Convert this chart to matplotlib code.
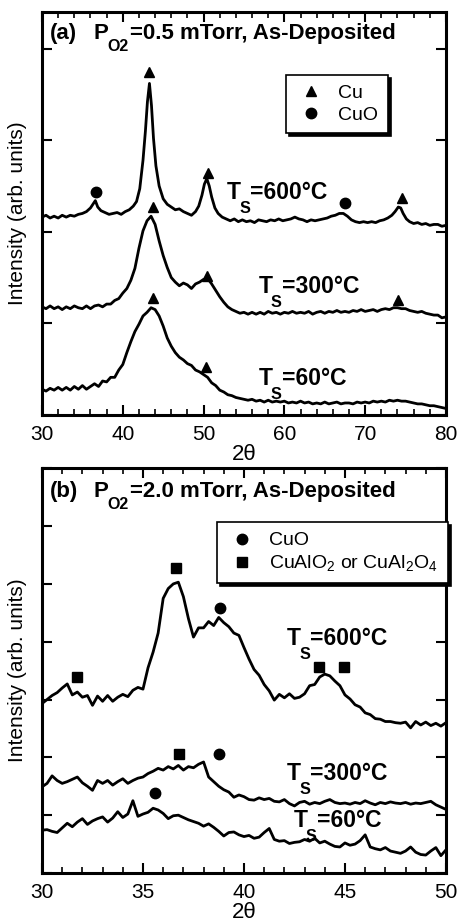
import matplotlib
matplotlib.use('Agg')
import matplotlib.pyplot as plt
from matplotlib.lines import Line2D
from matplotlib.ticker import MultipleLocator

plt.rcParams['font.family'] = ['Liberation Sans', 'DejaVu Sans']
plt.rcParams['mathtext.fontset'] = 'custom'
plt.rcParams['mathtext.rm'] = 'Liberation Sans'
plt.rcParams['mathtext.bf'] = 'Liberation Sans:bold'
plt.rcParams['mathtext.it'] = 'Liberation Sans:italic'

# ---- panel (a): P_O2 = 0.5 mTorr, 2theta 30-80 ----
xa_600 = [30, 30.5, 31, 31.5, 32, 32.5, 33, 33.5, 34, 34.5, 35, 35.5, 36, 36.3, 36.6, 36.9,
          37.3, 37.8, 38.3, 38.8, 39.3, 39.8, 40.3, 40.8, 41.3, 41.7, 42.1, 42.5, 42.8, 43.05,
          43.3, 43.55, 43.8, 44.1, 44.5, 45, 45.5, 46, 46.5, 47, 47.5, 48, 48.5, 49, 49.4, 49.8,
          50.1, 50.4, 50.7, 51, 51.4, 51.8, 52.3, 52.8, 53.3, 53.8, 54.3, 54.8, 55.3, 55.8, 56.3,
          56.8, 57.3, 57.8, 58.3, 58.8, 59.3, 59.8, 60.3, 60.8, 61.3, 61.8, 62.3, 62.8, 63.3, 63.8,
          64.3, 64.8, 65.3, 65.8, 66.3, 66.8, 67.3, 67.8, 68.3, 68.8, 69.3, 69.8, 70.3, 70.8, 71.3,
          71.8, 72.3, 72.8, 73.3, 73.7, 74.1, 74.4, 74.7, 75.1, 75.5, 76, 76.5, 77, 77.5, 78, 78.5,
          79, 79.5, 80]
ya_600 = [2.16, 2.18, 2.15, 2.17, 2.15, 2.18, 2.16, 2.18, 2.17, 2.19, 2.20, 2.22, 2.26, 2.30, 2.34, 2.27,
          2.23, 2.21, 2.19, 2.20, 2.21, 2.19, 2.22, 2.24, 2.28, 2.33, 2.47, 2.78, 3.10, 3.42,
          3.62, 3.38, 3.02, 2.72, 2.50, 2.36, 2.30, 2.27, 2.24, 2.25, 2.22, 2.20, 2.18, 2.22, 2.28, 2.40,
          2.52, 2.58, 2.50, 2.38, 2.26, 2.20, 2.16, 2.14, 2.12, 2.14, 2.11, 2.13, 2.11, 2.12, 2.10,
          2.13, 2.12, 2.11, 2.13, 2.12, 2.14, 2.12, 2.13, 2.14, 2.16, 2.14, 2.13, 2.11, 2.13, 2.12,
          2.13, 2.14, 2.15, 2.17, 2.18, 2.20, 2.20, 2.17, 2.13, 2.11, 2.10, 2.11, 2.10, 2.11, 2.10,
          2.12, 2.13, 2.15, 2.18, 2.22, 2.27, 2.26, 2.20, 2.14, 2.11, 2.09, 2.10, 2.08, 2.09, 2.07, 2.08,
          2.08, 2.06, 2.07]

xa = [30, 30.5, 31, 31.5, 32, 32.5, 33, 33.5, 34, 34.5, 35, 35.5, 36, 36.5, 37, 37.5, 38, 38.5,
      39, 39.5, 40, 40.5, 41, 41.5, 42, 42.5, 43, 43.5, 44, 44.5, 45, 45.5, 46, 46.5, 47, 47.5,
      48, 48.5, 49, 49.5, 50, 50.5, 51, 51.5, 52, 52.5, 53, 53.5, 54, 54.5, 55, 55.5, 56, 56.5,
      57, 57.5, 58, 58.5, 59, 59.5, 60, 60.5, 61, 61.5, 62, 62.5, 63, 63.5, 64, 64.5, 65, 65.5,
      66, 66.5, 67, 67.5, 68, 68.5, 69, 69.5, 70, 70.5, 71, 71.5, 72, 72.5, 73, 73.5, 74, 74.5,
      75, 75.5, 76, 76.5, 77, 77.5, 78, 78.5, 79, 79.5, 80]
ya_300 = [1.18, 1.16, 1.19, 1.16, 1.18, 1.15, 1.18, 1.16, 1.19, 1.17, 1.16, 1.19, 1.16, 1.19, 1.20, 1.18, 1.21, 1.21,
          1.25, 1.27, 1.33, 1.38, 1.47, 1.60, 1.82, 2.01, 2.12, 2.17, 2.08, 1.90, 1.74, 1.61, 1.50, 1.45, 1.41, 1.44,
          1.42, 1.38, 1.43, 1.45, 1.48, 1.49, 1.43, 1.36, 1.29, 1.23, 1.18, 1.15, 1.13, 1.11, 1.12, 1.10, 1.12, 1.10,
          1.12, 1.10, 1.13, 1.11, 1.12, 1.10, 1.12, 1.11, 1.13, 1.11, 1.12, 1.11, 1.13, 1.10, 1.12, 1.13, 1.11, 1.13,
          1.12, 1.14, 1.12, 1.13, 1.12, 1.14, 1.13, 1.15, 1.13, 1.14, 1.15, 1.13, 1.15, 1.16, 1.15, 1.17, 1.17, 1.16,
          1.16, 1.14, 1.13, 1.12, 1.13, 1.11, 1.10, 1.09, 1.09, 1.06, 1.07]
ya_60 = [0.28, 0.26, 0.29, 0.27, 0.30, 0.27, 0.30, 0.27, 0.31, 0.28, 0.32, 0.28, 0.31, 0.34, 0.31, 0.37, 0.36, 0.41,
         0.41, 0.49, 0.55, 0.68, 0.80, 0.91, 0.99, 1.08, 1.12, 1.17, 1.15, 1.08, 0.97, 0.84, 0.75, 0.68, 0.63, 0.60,
         0.56, 0.54, 0.49, 0.47, 0.44, 0.41, 0.35, 0.32, 0.27, 0.25, 0.22, 0.21, 0.19, 0.18, 0.17, 0.16, 0.17, 0.15,
         0.16, 0.14, 0.16, 0.14, 0.15, 0.14, 0.15, 0.13, 0.14, 0.13, 0.15, 0.13, 0.14, 0.12, 0.13, 0.12, 0.14, 0.12,
         0.13, 0.14, 0.12, 0.13, 0.13, 0.12, 0.14, 0.13, 0.14, 0.13, 0.15, 0.14, 0.15, 0.14, 0.16, 0.15, 0.16, 0.15,
         0.15, 0.14, 0.13, 0.12, 0.12, 0.11, 0.10, 0.10, 0.09, 0.08, 0.07]

cu_x = [43.3, 50.6, 74.5, 43.7, 50.4, 74.1, 43.8, 50.3]
cu_y = [3.75, 2.64, 2.37, 2.27, 1.52, 1.26, 1.28, 0.52]
cuo_a_x = [36.7, 67.5]
cuo_a_y = [2.43, 2.31]

# ---- panel (b): P_O2 = 2.0 mTorr, 2theta 30-50 ----
xb = [30.0, 30.25, 30.5, 30.75, 31.0, 31.25, 31.5, 31.75, 32.0, 32.25, 32.5, 32.75, 33.0, 33.25,
      33.5, 33.75, 34.0, 34.25, 34.5, 34.75, 35.0, 35.25, 35.5, 35.75, 36.0, 36.25, 36.5, 36.75,
      37.0, 37.25, 37.5, 37.75, 38.0, 38.25, 38.5, 38.75, 39.0, 39.25, 39.5, 39.75, 40.0, 40.25,
      40.5, 40.75, 41.0, 41.25, 41.5, 41.75, 42.0, 42.25, 42.5, 42.75, 43.0, 43.25, 43.5, 43.75,
      44.0, 44.25, 44.5, 44.75, 45.0, 45.25, 45.5, 45.75, 46.0, 46.25, 46.5, 46.75, 47.0, 47.25,
      47.5, 47.75, 48.0, 48.25, 48.5, 48.75, 49.0, 49.25, 49.5, 49.75, 50.0]
yb_600 = [2.93, 3.00, 3.07, 3.12, 3.20, 3.27, 3.08, 3.13, 3.04, 3.07, 2.90, 3.06, 2.97, 3.07,
          2.97, 3.04, 3.09, 3.05, 3.16, 3.21, 3.18, 3.55, 3.82, 4.15, 4.75, 4.92, 5.00, 5.03,
          4.78, 4.40, 4.08, 4.24, 4.24, 4.35, 4.28, 4.42, 4.33, 4.26, 4.15, 4.11, 3.90, 3.70,
          3.52, 3.42, 3.26, 3.15, 2.99, 3.09, 3.03, 3.10, 3.02, 3.04, 3.10, 3.24, 3.26, 3.39,
          3.44, 3.41, 3.32, 3.24, 3.08, 3.01, 2.91, 2.87, 2.77, 2.74, 2.67, 2.66, 2.62, 2.62,
          2.60, 2.59, 2.61, 2.51, 2.62, 2.56, 2.61, 2.55, 2.59, 2.54, 2.60]
yb_300 = [1.49, 1.55, 1.68, 1.60, 1.55, 1.58, 1.62, 1.66, 1.56, 1.50, 1.43, 1.60, 1.55, 1.60,
          1.52, 1.58, 1.63, 1.55, 1.60, 1.64, 1.66, 1.72, 1.76, 1.81, 1.78, 1.84, 1.80, 1.86,
          1.78, 1.84, 1.82, 1.88, 1.92, 1.66, 1.58, 1.50, 1.44, 1.40, 1.31, 1.35, 1.32, 1.27,
          1.26, 1.30, 1.27, 1.29, 1.24, 1.23, 1.27, 1.20, 1.16, 1.22, 1.24, 1.19, 1.22, 1.20,
          1.24, 1.27, 1.22, 1.20, 1.21, 1.19, 1.22, 1.20, 1.25, 1.21, 1.18, 1.22, 1.20, 1.23,
          1.21, 1.20, 1.22, 1.19, 1.21, 1.20, 1.22, 1.24, 1.18, 1.14, 1.10]
yb_60 = [0.74, 0.75, 0.72, 0.70, 0.78, 0.86, 0.80, 0.88, 0.94, 0.84, 0.90, 0.94, 0.97, 0.88,
         0.95, 1.06, 0.96, 1.02, 1.25, 0.98, 1.02, 1.05, 1.12, 1.09, 1.03, 0.94, 0.99, 1.00,
         0.96, 0.92, 0.89, 0.86, 0.81, 0.85, 0.79, 0.72, 0.64, 0.70, 0.71, 0.66, 0.63, 0.65,
         0.60, 0.62, 0.70, 0.77, 0.58, 0.55, 0.56, 0.51, 0.53, 0.54, 0.58, 0.55, 0.60, 0.52,
         0.55, 0.50, 0.46, 0.45, 0.52, 0.48, 0.50, 0.56, 0.66, 0.45, 0.42, 0.40, 0.44, 0.38,
         0.36, 0.34, 0.38, 0.45, 0.36, 0.32, 0.31, 0.38, 0.44, 0.30, 0.40]

sq_x = [31.73, 36.63, 43.73, 44.93, 36.77]
sq_y = [3.39, 5.27, 3.56, 3.56, 2.05]
cuo_b_x = [38.83, 38.75, 35.61]
cuo_b_y = [4.58, 2.05, 1.38]

temps = ['600', '300', '60']
lab_a_x = [52.86, 56.77, 56.77]
lab_a_y = [2.36, 1.33, 0.33]
lab_b_x = [42.11, 42.11, 42.44]
lab_b_y = [3.94, 1.61, 0.79]


def style_axes(ax, xmin, xmax, xmaj, xmin_step, ymax, ymaj):
    ax.set_xlim(xmin, xmax)
    ax.set_ylim(0, ymax)
    ax.xaxis.set_major_locator(MultipleLocator(xmaj))
    ax.xaxis.set_minor_locator(MultipleLocator(xmin_step))
    ax.yaxis.set_major_locator(MultipleLocator(ymaj))
    ax.set_yticklabels([])
    ax.tick_params(which='both', direction='in', top=True, right=True, labelsize=15)
    ax.tick_params(which='major', length=7, width=1.5)
    ax.tick_params(which='minor', length=4, width=1.2)
    ax.tick_params(axis='x', pad=7)
    for s in ax.spines.values():
        s.set_linewidth(2.2)
    ax.set_xlabel('2θ', fontsize=16, labelpad=0)
    ax.set_ylabel('Intensity (arb. units)', fontsize=15, labelpad=7)


def pieces(ax, xy, coords, parts):
    # text put together from pieces so the big, low subscripts sit like the original
    for txt, dx, dy, size in parts:
        ax.annotate(txt, xy=xy, xycoords=coords, xytext=(dx, dy),
                    textcoords='offset pixels', fontsize=size, fontweight='bold',
                    ha='left', va='baseline')


def ts_label(ax, x, y, t):
    pieces(ax, (x, y), 'data', [('T', 0, 0, 16.5), ('S', 12.6, -14, 11.7),
                                ('=' + t + '°C', 23.3, 0, 16.5)])


def title(ax, y, tag, p):
    pieces(ax, (0.0198, y), 'axes fraction',
           [(tag, 0, 0, 16), ('P', 44, 0, 16), ('O2', 57, -12, 11.5),
            ('=' + p + ' mTorr, As-Deposited', 80, 0, 16)])


fig = plt.figure(figsize=(4.58, 9.24), dpi=100)
ax1 = fig.add_axes([0.0917, 0.551, 0.882, 0.436])
ax2 = fig.add_axes([0.0917, 0.0552, 0.882, 0.438])

lw = 2.0
ax1.plot(xa_600, ya_600, color='k', lw=lw)
ax1.plot(xa, ya_300, color='k', lw=lw)
ax1.plot(xa, ya_60, color='k', lw=lw)
ax1.plot(cu_x, cu_y, '^', color='k', ms=7, ls='none')
ax1.plot(cuo_a_x, cuo_a_y, 'o', color='k', ms=7.5, ls='none')
style_axes(ax1, 30, 80, 10, 2, 4.4, 1)

title(ax1, 0.934, '(a)', '0.5')
for x, y, t in zip(lab_a_x, lab_a_y, temps):
    ts_label(ax1, x, y, t)

h_a = [Line2D([], [], marker='^', color='k', ls='none', ms=7),
       Line2D([], [], marker='o', color='k', ls='none', ms=7.5)]
leg = ax1.legend(h_a, ['Cu', 'CuO'], loc='upper left', bbox_to_anchor=(0.604, 0.844),
                 fontsize=14, frameon=True, fancybox=False, edgecolor='k',
                 shadow={'color': 'k', 'alpha': 1}, borderpad=0.5, labelspacing=0.2,
                 handletextpad=0.6, handlelength=1.6, borderaxespad=0)
leg.get_frame().set_linewidth(1.2)

ax2.plot(xb, yb_600, color='k', lw=lw)
ax2.plot(xb, yb_300, color='k', lw=lw)
ax2.plot(xb, yb_60, color='k', lw=lw)
ax2.plot(sq_x, sq_y, 's', color='k', ms=7.5, ls='none')
ax2.plot(cuo_b_x, cuo_b_y, 'o', color='k', ms=7.5, ls='none')
style_axes(ax2, 30, 50, 5, 1, 7, 1)

title(ax2, 0.928, '(b)', '2.0')
for x, y, t in zip(lab_b_x, lab_b_y, temps):
    ts_label(ax2, x, y, t)

h_b = [Line2D([], [], marker='o', color='k', ls='none', ms=7.5),
       Line2D([], [], marker='s', color='k', ls='none', ms=7.5)]
leg2 = ax2.legend(h_b, ['CuO', r'CuAlO$_2$ or CuAl$_2$O$_4$'], loc='upper left',
                  bbox_to_anchor=(0.433, 0.867), fontsize=14, frameon=True, fancybox=False,
                  edgecolor='k', shadow={'color': 'k', 'alpha': 1}, borderpad=0.5,
                  labelspacing=0.2, handletextpad=0.6, handlelength=1.6, borderaxespad=0)
leg2.get_frame().set_linewidth(1.2)

fig.savefig('out.png', dpi=100)
